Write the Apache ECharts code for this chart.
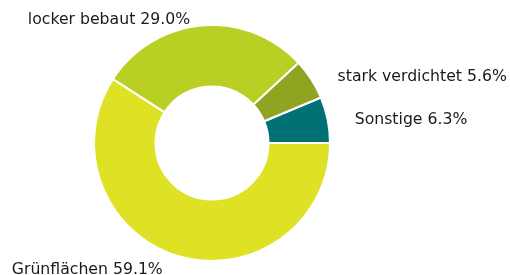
<!DOCTYPE html>
<html>
<head>
<meta charset="utf-8">
<script src="https://cdn.jsdelivr.net/npm/echarts@6/dist/echarts.min.js"></script>
<style>
  html, body { margin: 0; padding: 0; background: #fff; }
  #chart { width: 510px; height: 275px; }
</style>
</head>
<body>
<div id="chart"></div>
<script>
// data, counterclockwise from 3 o'clock
const categories = ["Sonstige", "stark verdichtet", "locker bebaut", "Grünflächen"];
const shares = [6.3, 5.6, 29.0, 59.1];
const colors = ["#007175", "#8fa521", "#b9cf24", "#dfe224"];
// label line lengths (hidden lines, only used to place the labels)
const lineLen = [0, 4, 6, 14];
const lineLen2 = [22, 18, 6, 7];

let formattedData = Array();
categories.forEach(function (name, i) {
  formattedData.push({
    name: name,
    value: shares[i],
    itemStyle: { color: colors[i] },
    labelLine: { show: false, length: lineLen[i], length2: lineLen2[i] },
  });
});

const chart = echarts.init(document.getElementById("chart"));
chart.setOption({
  animation: false,
  series: [
    {
      type: "pie",
      center: [212, 143],
      radius: [56.5, 118],
      startAngle: 0,
      clockwise: false,
      avoidLabelOverlap: false,
      itemStyle: { borderColor: "#fff", borderWidth: 2 },
      label: {
        show: true,
        position: "outside",
        fontFamily: "DejaVu Sans",
        fontSize: 15.7,
        color: "#1a1a1a",
        distanceToLabelLine: 5,
        formatter: function (p) {
          return p.name + " " + p.value.toFixed(1) + "%";
        },
      },
      emphasis: { disabled: true },
      data: formattedData,
    },
  ],
});
</script>
</body>
</html>
